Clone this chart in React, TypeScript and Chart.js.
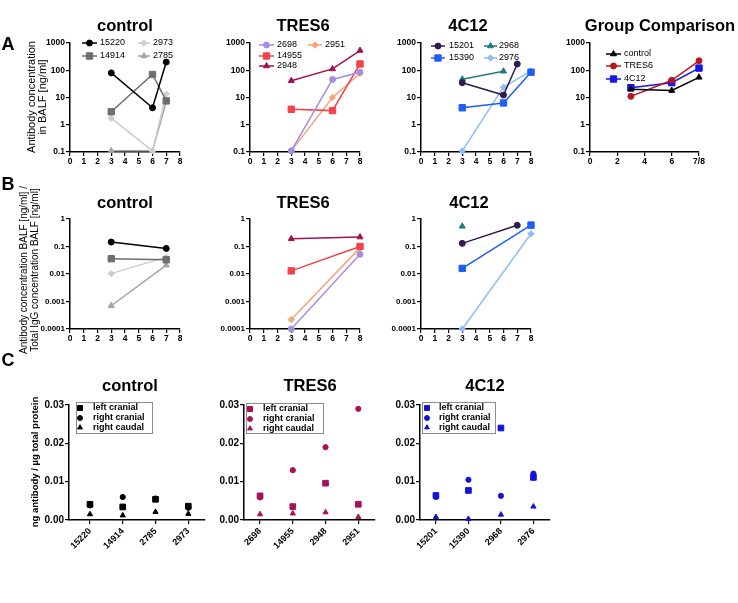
import React, { useEffect, useRef } from 'react';
import { Chart, registerables } from 'chart.js';
import { drawPoint } from 'chart.js/helpers';

Chart.register(...registerables);

const PAGE_W = 738;
const PAGE_H = 603;
const FONT = 'Arial, "Liberation Sans", Helvetica, sans-serif';

// ---------- Row A: antibody concentration in BALF [ng/ml] ----------
const daysCtrlA = [3, 6, 7];
const aCtrl15220 = [80, 4.2, 200];
const aCtrl14914 = [3.0, 70, 7.5];
const aCtrl2973 = [1.75, 0.11, 13.5];
const aCtrl2785 = [0.11, 0.11, 7];

const daysTresA = [3, 6, 8];
const aTres2698 = [0.11, 46, 85];
const aTres14955 = [3.7, 3.3, 170];
const aTres2948 = [41, 112, 530];
const aTres2951 = [0.11, 10, 77];

const days15201A = [3, 6, 7];
const days4c12A = [3, 6, 8];
const days2968A = [3, 6];
const a4c12_15201 = [35, 12.3, 170];
const a4c12_15390 = [4.2, 6.3, 85];
const a4c12_2968 = [47, 92];
const a4c12_2976 = [0.11, 24, 93];

const daysGroup = [3, 6, 8];
const gControl = [20, 18, 55];
const gTres6 = [11, 43, 222];
const g4c12 = [23, 35, 120];

const xTicksDays = [0, 1, 2, 3, 4, 5, 6, 7, 8];
const xLabelsDays = ['0', '1', '2', '3', '4', '5', '6', '7', '8'];
const xTicksGroup = [0, 2, 4, 6, 8];
const xLabelsGroup = ['0', '2', '4', '6', '7/8'];
const yTicksA = [0.1, 1, 10, 100, 1000];
const yLabelsA = ['0.1', '1', '10', '100', '1000'];

// ---------- Row B: antibody / total IgG ----------
const daysCtrlB = [3, 7];
const bCtrl15220 = [0.145, 0.085];
const bCtrl14914 = [0.036, 0.033];
const bCtrl2973 = [0.0103, 0.041];
const bCtrl2785 = [0.0007, 0.021];

const daysTresB = [3, 8];
const bTres2698 = [0.0001, 0.052];
const bTres14955 = [0.013, 0.1];
const bTres2948 = [0.19, 0.22];
const bTres2951 = [0.00022, 0.089];

const days2968B = [3];
const days15201B = [3, 7];
const days4c12B = [3, 8];
const b4c12_2968 = [0.54];
const b4c12_15201 = [0.13, 0.59];
const b4c12_15390 = [0.016, 0.6];
const b4c12_2976 = [0.0001, 0.29];

const yTicksB = [0.0001, 0.001, 0.01, 0.1, 1];
const yLabelsB = ['0.0001', '0.001', '0.01', '0.1', '1'];

// ---------- Row C: ng antibody / µg total protein ----------
const cCtrlAnimals = ['15220', '14914', '2785', '2973'];
const cCtrlLeftCranial = [0.0041, 0.0034, 0.0054, 0.0036];
const cCtrlRightCranial = [0.0038, 0.006, 0.0056, 0.0032];
const cCtrlRightCaudal = [0.0015, 0.0012, 0.0021, 0.0016];

const cTresAnimals = ['2698', '14955', '2948', '2951'];
const cTresLeftCranial = [0.0063, 0.0035, 0.0096, 0.0041];
const cTresRightCranial = [0.0059, 0.013, 0.019, 0.029];
const cTresRightCaudal = [0.0015, 0.0017, 0.002, 0.0008];

const c4c12Animals = ['15201', '15390', '2968', '2976'];
const c4c12LeftCranial = [0.0064, 0.0077, 0.024, 0.0111];
const c4c12RightCranial = [0.006, 0.0105, 0.0063, 0.0121];
const c4c12RightCaudal = [0.0008, 0.0003, 0.0014, 0.0035];

const cIdx = [0, 1, 2, 3];
const yTicksC = [0, 0.01, 0.02, 0.03];
const yLabelsC = ['0.00', '0.01', '0.02', '0.03'];

// ---------- colours ----------
const COL = {
  c15220: '#000000', c14914: '#6e6e6e', c2973: '#cdcdcd', c2785: '#a4a4a4',
  t2698: '#a28fe0', t14955: '#f4424b', t2948: '#a3124d', t2951: '#f8a37a',
  f15201: '#2f1a52', f15390: '#1f5ef5', f2968: '#1f7b7e', f2976: '#90bdf7',
  gCtrl: '#000000', gTres: '#b5171e', g4c12: '#1616e6',
  cCtrl: '#000000', cTres: '#a8125a', c4c12: '#1414d8',
};

type LegendItem = { ds: number; x1: number; x2: number; y: number; tx: number; r?: number };
type LegendSpec = { items: LegendItem[]; size: number; bold?: boolean; box?: [number, number, number, number] };

type PanelSpec = {
  L: number; R: number; T: number; B: number;
  yW: number; xH: number;
  xMin: number; xMax: number; xTicks: number[]; xLabels: string[]; xRot?: number; xFont: number; xPad?: number;
  yType: 'logarithmic' | 'linear'; yMin: number; yMax: number; yTicks: number[]; yLabels: string[]; yFont: number;
  datasets: any[];
  legend?: LegendSpec;
};

function series(label: string, xs: number[], ys: number[], color: string, style: string, r: number, line = true) {
  return {
    label,
    data: xs.map((x, i) => ({ x, y: ys[i] })),
    borderColor: color,
    backgroundColor: color,
    pointBackgroundColor: color,
    pointBorderColor: color,
    pointStyle: style,
    pointRadius: r,
    pointBorderWidth: 1,
    borderWidth: 1.5,
    showLine: line,
    tension: 0,
    clip: false,
    fill: false,
  };
}

function legendPlugin(spec?: LegendSpec) {
  return {
    id: 'gpLegend',
    afterDatasetsDraw(chart: any) {
      if (!spec) return;
      const ctx = chart.ctx as CanvasRenderingContext2D;
      ctx.save();
      if (spec.box) {
        const [x1, y1, x2, y2] = spec.box;
        ctx.fillStyle = '#ffffff';
        ctx.fillRect(x1, y1, x2 - x1, y2 - y1);
        ctx.strokeStyle = '#8c8c8c';
        ctx.lineWidth = 1;
        ctx.strokeRect(x1 + 0.5, y1 + 0.5, x2 - x1, y2 - y1);
      }
      ctx.font = `${spec.bold ? 'bold ' : ''}${spec.size}px ${FONT}`;
      ctx.textBaseline = 'middle';
      ctx.textAlign = 'left';
      for (const it of spec.items) {
        const ds = chart.data.datasets[it.ds];
        const col = ds.borderColor;
        if (it.x2 > it.x1) {
          ctx.strokeStyle = col;
          ctx.lineWidth = 1.5;
          ctx.beginPath();
          ctx.moveTo(it.x1, it.y);
          ctx.lineTo(it.x2, it.y);
          ctx.stroke();
        }
        ctx.fillStyle = col;
        ctx.strokeStyle = col;
        ctx.lineWidth = 1;
        drawPoint(ctx, { pointStyle: ds.pointStyle, rotation: 0, radius: it.r ?? ds.pointRadius, borderWidth: 1 } as any, (it.x1 + it.x2) / 2, it.y);
        ctx.fillStyle = '#000';
        ctx.fillText(ds.label, it.tx, it.y);
      }
      ctx.restore();
    },
  };
}

function makeConfig(s: PanelSpec): any {
  const grid = { drawOnChartArea: false, drawTicks: true, tickLength: 4, color: '#000', lineWidth: 1.2 };
  const border = { display: true, color: '#000', width: 1.5 };
  return {
    type: 'line',
    data: { datasets: s.datasets },
    options: {
      animation: false,
      responsive: false,
      devicePixelRatio: 1,
      events: [],
      layout: {
        autoPadding: false,
        padding: { left: s.L - s.yW, top: s.T, right: PAGE_W - s.R, bottom: PAGE_H - s.B - s.xH },
      },
      plugins: { legend: { display: false }, tooltip: { enabled: false }, title: { display: false } },
      scales: {
        x: {
          type: 'linear',
          min: s.xMin,
          max: s.xMax,
          afterBuildTicks: (sc: any) => { sc.ticks = s.xTicks.map((v) => ({ value: v })); },
          afterFit: (sc: any) => { sc.height = s.xH; sc.paddingLeft = 0; sc.paddingRight = 0; },
          grid,
          border,
          ticks: {
            autoSkip: false,
            color: '#000',
            padding: s.xPad ?? 1,
            minRotation: s.xRot || 0,
            maxRotation: s.xRot || 0,
            font: { family: FONT, size: s.xFont, weight: 'bold' },
            callback: (_v: any, i: number) => s.xLabels[i],
          },
        },
        y: {
          type: s.yType,
          min: s.yMin,
          max: s.yMax,
          afterBuildTicks: (sc: any) => { sc.ticks = s.yTicks.map((v) => ({ value: v })); },
          afterFit: (sc: any) => { sc.width = s.yW; sc.paddingTop = 0; sc.paddingBottom = 0; },
          grid,
          border,
          ticks: {
            autoSkip: false,
            color: '#000',
            padding: 1,
            font: { family: FONT, size: s.yFont, weight: 'bold' },
            callback: (_v: any, i: number) => s.yLabels[i],
          },
        },
      },
    },
    plugins: [legendPlugin(s.legend)],
  };
}

function Panel({ spec }: { spec: PanelSpec }) {
  const ref = useRef<HTMLCanvasElement | null>(null);
  useEffect(() => {
    if (!ref.current) return;
    const chart = new Chart(ref.current, makeConfig(spec));
    return () => chart.destroy();
  }, [spec]);
  return (
    <canvas
      ref={ref}
      width={PAGE_W}
      height={PAGE_H}
      style={{ position: 'absolute', left: 0, top: 0, width: PAGE_W, height: PAGE_H, pointerEvents: 'none' }}
    />
  );
}

// ---------- panel specs ----------
const A_T = 43, A_B = 152;
const B_T = 219, B_B = 329;
const C_T = 405, C_B = 520;

function aSpec(L: number, R: number, datasets: any[], legend: LegendSpec, group = false): PanelSpec {
  return {
    L, R, T: A_T, B: A_B, yW: 32, xH: 20,
    xMin: 0, xMax: 8, xTicks: group ? xTicksGroup : xTicksDays, xLabels: group ? xLabelsGroup : xLabelsDays, xFont: 8.5,
    yType: 'logarithmic', yMin: 0.1, yMax: 1000, yTicks: yTicksA, yLabels: yLabelsA, yFont: 8.5,
    datasets, legend,
  };
}

function bSpec(L: number, R: number, datasets: any[]): PanelSpec {
  return {
    L, R, T: B_T, B: B_B, yW: 36, xH: 20,
    xMin: 0, xMax: 8, xTicks: xTicksDays, xLabels: xLabelsDays, xFont: 8.5,
    yType: 'logarithmic', yMin: 0.0001, yMax: 1, yTicks: yTicksB, yLabels: yLabelsB, yFont: 8,
    datasets,
  };
}

function cSpec(L: number, R: number, xMin: number, labels: string[], color: string, lc: number[], rc: number[], ca: number[], box: [number, number, number, number], mx: number, tx: number): PanelSpec {
  return {
    L, R, T: C_T, B: C_B, yW: 30, xH: 45,
    xMin, xMax: 3.51, xTicks: cIdx, xLabels: labels, xRot: 45, xFont: 9, xPad: 2,
    yType: 'linear', yMin: 0, yMax: 0.03, yTicks: yTicksC, yLabels: yLabelsC, yFont: 10,
    datasets: [
      series('left cranial', cIdx, lc, color, 'rect', 4, false),
      series('right cranial', cIdx, rc, color, 'circle', 2.6, false),
      series('right caudal', cIdx, ca, color, 'triangle', 3, false),
    ],
    legend: {
      size: 9, bold: true, box,
      items: [
        { ds: 0, x1: mx, x2: mx, y: box[1] + 6, tx, r: 3.5 },
        { ds: 1, x1: mx, x2: mx, y: box[1] + 16, tx, r: 2.5 },
        { ds: 2, x1: mx, x2: mx, y: box[1] + 25.5, tx, r: 2.8 },
      ],
    },
  };
}

const panels: PanelSpec[] = [
  aSpec(70, 180, [
    series('15220', daysCtrlA, aCtrl15220, COL.c15220, 'circle', 3),
    series('14914', daysCtrlA, aCtrl14914, COL.c14914, 'rect', 4.5),
    series('2973', daysCtrlA, aCtrl2973, COL.c2973, 'rectRot', 3.2),
    series('2785', daysCtrlA, aCtrl2785, COL.c2785, 'triangle', 3.5),
  ], {
    size: 9,
    items: [
      { ds: 0, x1: 82, x2: 97, y: 43, tx: 100 },
      { ds: 1, x1: 82, x2: 97, y: 56, tx: 100 },
      { ds: 2, x1: 138, x2: 150, y: 43, tx: 153 },
      { ds: 3, x1: 138, x2: 150, y: 56, tx: 153 },
    ],
  }),
  aSpec(250, 360, [
    series('2698', daysTresA, aTres2698, COL.t2698, 'circle', 3),
    series('14955', daysTresA, aTres14955, COL.t14955, 'rect', 4.5),
    series('2948', daysTresA, aTres2948, COL.t2948, 'triangle', 3.5),
    series('2951', daysTresA, aTres2951, COL.t2951, 'rectRot', 3.2),
  ], {
    size: 9,
    items: [
      { ds: 0, x1: 259, x2: 274, y: 45, tx: 277 },
      { ds: 1, x1: 259, x2: 274, y: 56, tx: 277 },
      { ds: 2, x1: 259, x2: 274, y: 66, tx: 277 },
      { ds: 3, x1: 308, x2: 322, y: 45, tx: 325 },
    ],
  }),
  aSpec(421, 531, [
    series('15201', days15201A, a4c12_15201, COL.f15201, 'circle', 3),
    series('15390', days4c12A, a4c12_15390, COL.f15390, 'rect', 4.5),
    series('2968', days2968A, a4c12_2968, COL.f2968, 'triangle', 3.5),
    series('2976', days4c12A, a4c12_2976, COL.f2976, 'rectRot', 3.2),
  ], {
    size: 9,
    items: [
      { ds: 0, x1: 431, x2: 445, y: 46, tx: 449 },
      { ds: 1, x1: 431, x2: 445, y: 58, tx: 449 },
      { ds: 2, x1: 484, x2: 497, y: 46, tx: 499 },
      { ds: 3, x1: 484, x2: 497, y: 58, tx: 499 },
    ],
  }),
  aSpec(590, 699, [
    series('control', daysGroup, gControl, COL.gCtrl, 'triangle', 3.5),
    series('TRES6', daysGroup, gTres6, COL.gTres, 'circle', 3),
    series('4C12', daysGroup, g4c12, COL.g4c12, 'rect', 4.5),
  ], {
    size: 9,
    items: [
      { ds: 0, x1: 606, x2: 621, y: 54, tx: 624 },
      { ds: 1, x1: 606, x2: 621, y: 66, tx: 624 },
      { ds: 2, x1: 606, x2: 621, y: 79, tx: 624 },
    ],
  }, true),
  bSpec(70, 180, [
    series('15220', daysCtrlB, bCtrl15220, COL.c15220, 'circle', 3),
    series('14914', daysCtrlB, bCtrl14914, COL.c14914, 'rect', 4.5),
    series('2973', daysCtrlB, bCtrl2973, COL.c2973, 'rectRot', 3.2),
    series('2785', daysCtrlB, bCtrl2785, COL.c2785, 'triangle', 3.5),
  ]),
  bSpec(250, 360, [
    series('2698', daysTresB, bTres2698, COL.t2698, 'circle', 3),
    series('14955', daysTresB, bTres14955, COL.t14955, 'rect', 4.5),
    series('2948', daysTresB, bTres2948, COL.t2948, 'triangle', 3.5),
    series('2951', daysTresB, bTres2951, COL.t2951, 'rectRot', 3.2),
  ]),
  bSpec(421, 531, [
    series('2968', days2968B, b4c12_2968, COL.f2968, 'triangle', 3.5),
    series('15201', days15201B, b4c12_15201, COL.f15201, 'circle', 3),
    series('15390', days4c12B, b4c12_15390, COL.f15390, 'rect', 4.5),
    series('2976', days4c12B, b4c12_2976, COL.f2976, 'rectRot', 3.2),
  ]),
  cSpec(69, 205, -0.64, cCtrlAnimals, COL.cCtrl, cCtrlLeftCranial, cCtrlRightCranial, cCtrlRightCaudal, [76, 402, 152, 433], 80, 93),
  cSpec(244, 375, -0.49, cTresAnimals, COL.cTres, cTresLeftCranial, cTresRightCranial, cTresRightCaudal, [246, 403, 323, 433], 250, 263),
  cSpec(420, 550, -0.49, c4c12Animals, COL.c4c12, c4c12LeftCranial, c4c12RightCranial, c4c12RightCaudal, [422, 402, 495, 433], 427, 439),
];

type TextSpec = { text: string; x: number; y: number; size: number; bold?: boolean };
const titles: TextSpec[] = [
  { text: 'control', x: 125, y: 25, size: 16.5, bold: true },
  { text: 'TRES6', x: 303, y: 25, size: 16.5, bold: true },
  { text: '4C12', x: 468, y: 25, size: 16.5, bold: true },
  { text: 'Group Comparison', x: 660, y: 25, size: 16.5, bold: true },
  { text: 'control', x: 125, y: 202, size: 16.5, bold: true },
  { text: 'TRES6', x: 303, y: 202, size: 16.5, bold: true },
  { text: '4C12', x: 469, y: 202, size: 16.5, bold: true },
  { text: 'control', x: 130, y: 385, size: 16.5, bold: true },
  { text: 'TRES6', x: 310, y: 385, size: 16.5, bold: true },
  { text: '4C12', x: 485, y: 385, size: 16.5, bold: true },
];
const letters: TextSpec[] = [
  { text: 'A', x: 8, y: 44, size: 18, bold: true },
  { text: 'B', x: 8, y: 184, size: 18, bold: true },
  { text: 'C', x: 8, y: 360, size: 18, bold: true },
];

type VTitle = { lines: string[]; x: number; y: number; size: number; lh: number; bold?: boolean };
const vTitles: VTitle[] = [
  { lines: ['Antibody concentration', 'in BALF [ng/ml]'], x: 37, y: 97, size: 11, lh: 11 },
  { lines: ['Antibody concentration BALF [ng/ml] /', 'Total IgG concentration BALF [ng/ml]'], x: 29, y: 270, size: 10, lh: 10.5 },
  { lines: ['ng antibody / µg total protein'], x: 34, y: 462, size: 9.5, lh: 11, bold: true },
];

export default function App() {
  return (
    <div style={{ position: 'absolute', left: 0, top: 0, width: PAGE_W, height: PAGE_H, background: '#fff', overflow: 'hidden' }}>
      {panels.map((p, i) => (
        <Panel key={i} spec={p} />
      ))}
      {[...titles, ...letters].map((t, i) => (
        <div
          key={'t' + i}
          style={{
            position: 'absolute', left: t.x, top: t.y, transform: 'translate(-50%, -50%)',
            font: `${t.bold ? 'bold ' : ''}${t.size}px ${FONT}`, whiteSpace: 'nowrap', color: '#000', lineHeight: 1,
          }}
        >
          {t.text}
        </div>
      ))}
      {vTitles.map((t, i) => (
        <div
          key={'v' + i}
          style={{
            position: 'absolute', left: t.x, top: t.y, transform: 'translate(-50%, -50%) rotate(-90deg)',
            font: `${t.bold ? 'bold ' : ''}${t.size}px ${FONT}`, lineHeight: `${t.lh}px`, whiteSpace: 'nowrap',
            textAlign: 'center', color: '#000',
          }}
        >
          {t.lines.map((l, j) => (
            <div key={j}>{l}</div>
          ))}
        </div>
      ))}
    </div>
  );
}
